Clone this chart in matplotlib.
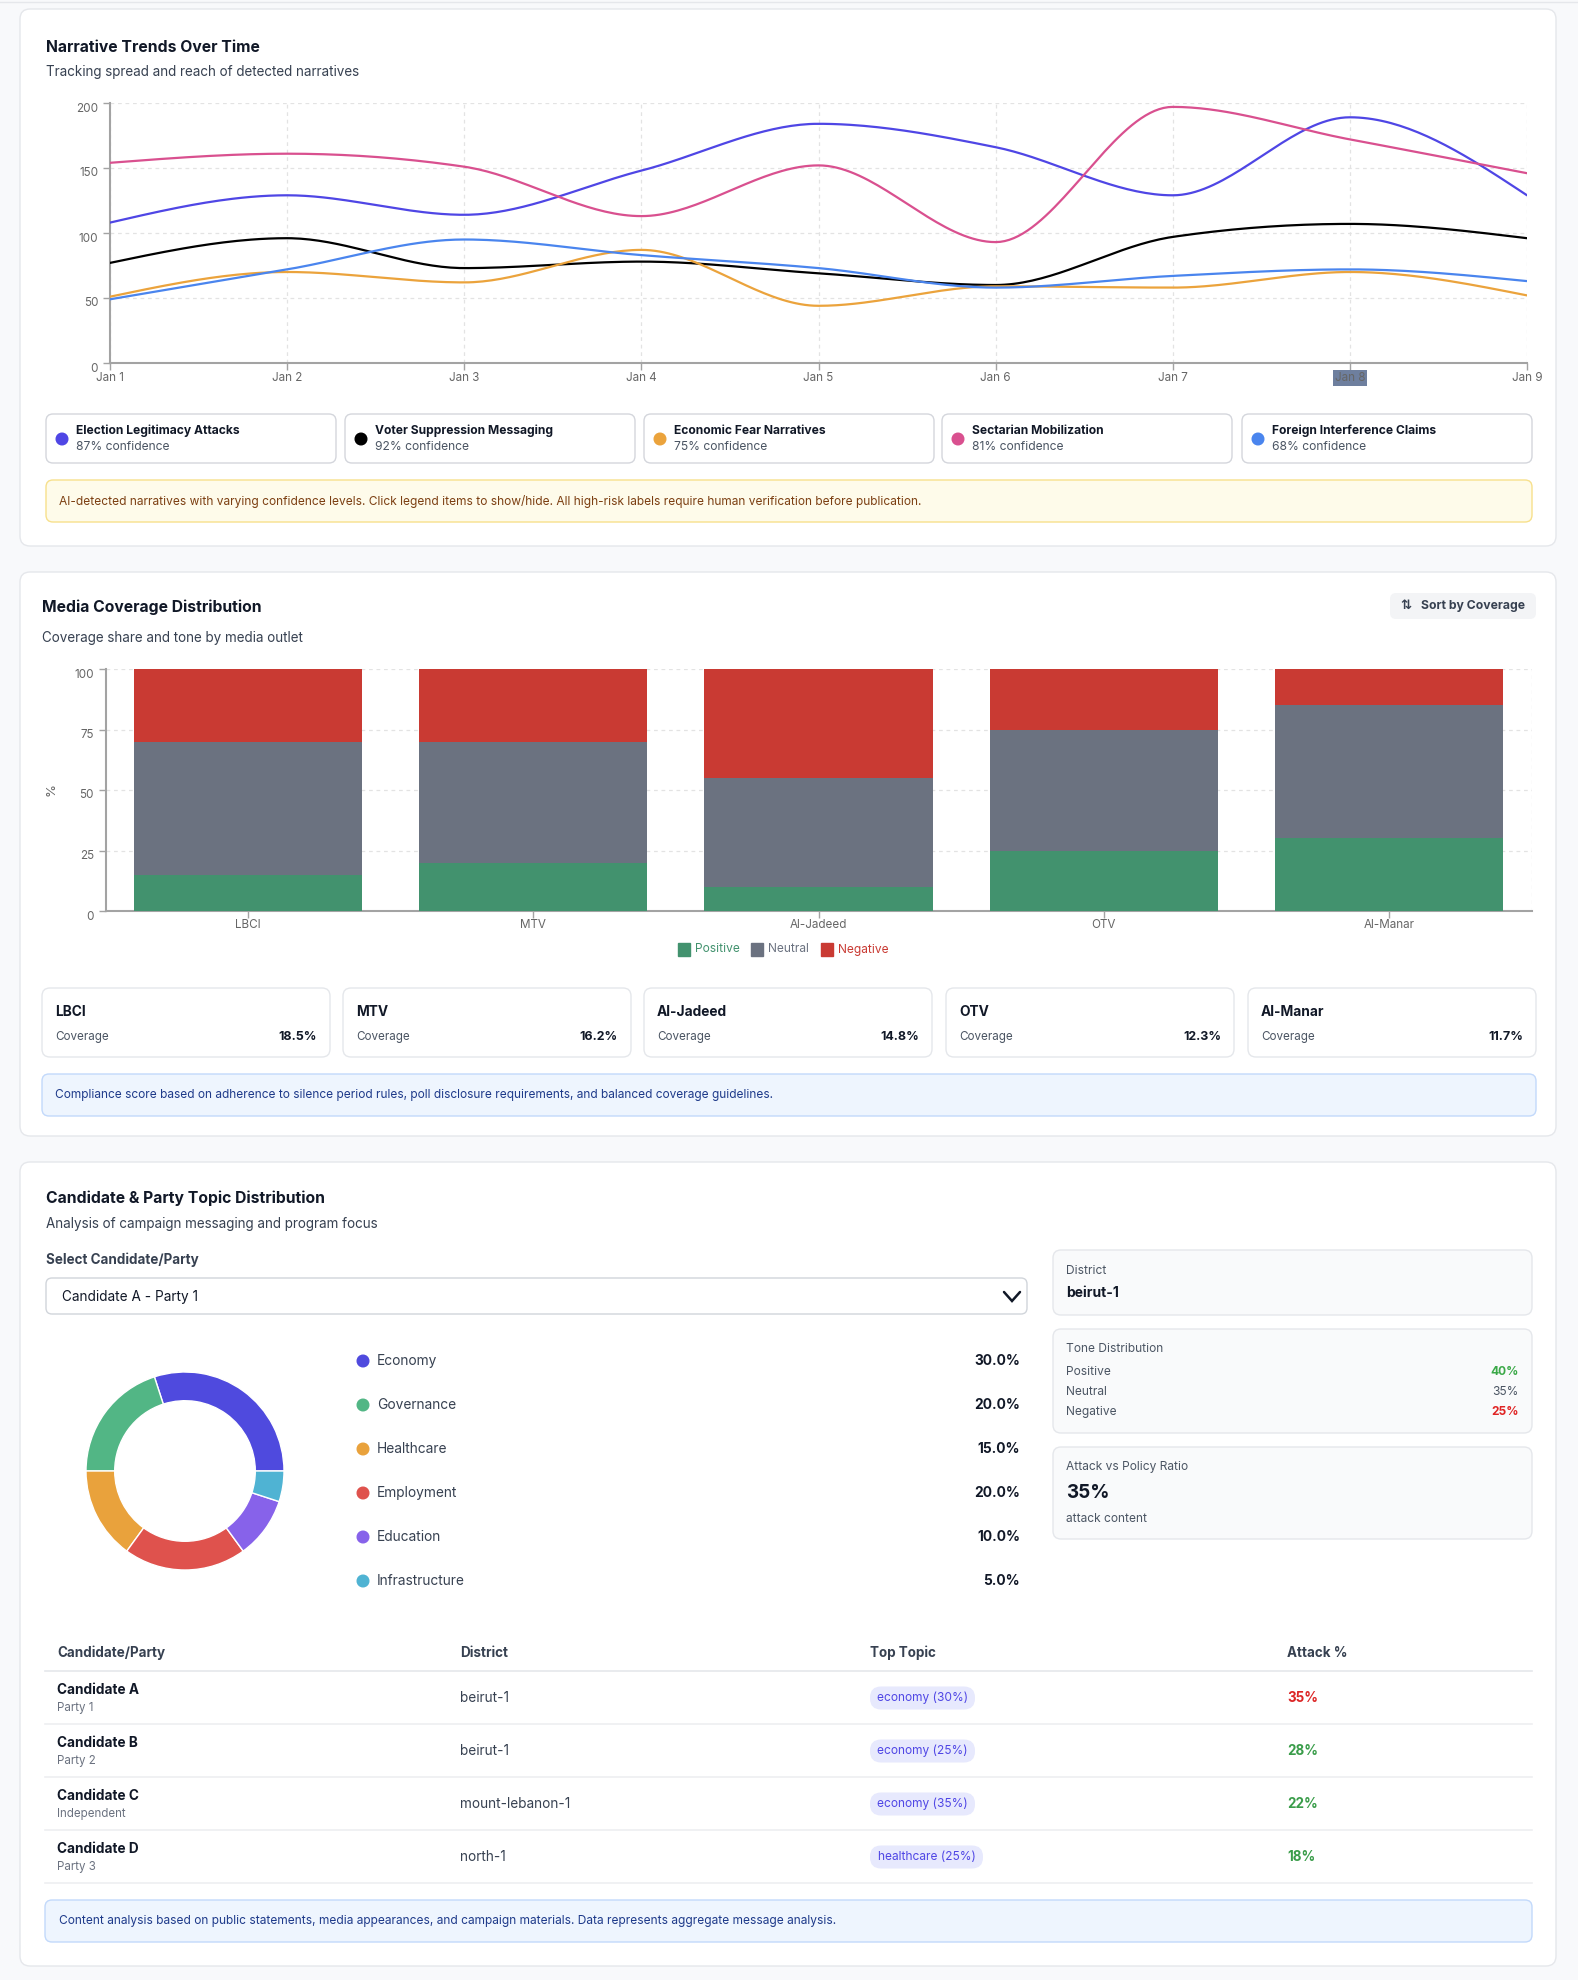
import numpy as np
import matplotlib
matplotlib.use('Agg')
import matplotlib.pyplot as plt
import matplotlib.transforms as mtrans
from matplotlib.patches import FancyBboxPatch, Circle, Rectangle

plt.rcParams['font.family'] = ['Inter', 'DejaVu Sans']

W, H = 1578, 1980

# ---------------- data ----------------
days = ['Jan 1', 'Jan 2', 'Jan 3', 'Jan 4', 'Jan 5', 'Jan 6', 'Jan 7', 'Jan 8', 'Jan 9']
narratives = ['Election Legitimacy Attacks', 'Voter Suppression Messaging',
              'Economic Fear Narratives', 'Sectarian Mobilization', 'Foreign Interference Claims']
confidence = [87, 92, 75, 81, 68]
election = [108, 129, 114, 148, 184, 166, 129, 189, 129]
voter = [77, 96, 73, 78, 69, 60, 97, 107, 96]
economic = [51, 70, 62, 87, 44, 59, 58, 70, 52]
sectarian = [154, 161, 151, 113, 152, 93, 197, 172, 146]
foreign = [49, 72, 95, 83, 73, 58, 67, 72, 63]
line_colors = ['#4f46e5', '#000000', '#eba33c', '#d9508f', '#4a85ee']

outlets = ['LBCI', 'MTV', 'Al-Jadeed', 'OTV', 'Al-Manar']
positive = [15, 20, 10, 25, 30]
neutral = [55, 50, 45, 50, 55]
negative = [30, 30, 45, 25, 15]
coverage = [18.5, 16.2, 14.8, 12.3, 11.7]

topics = ['Economy', 'Governance', 'Healthcare', 'Employment', 'Education', 'Infrastructure']
topic_share = [30.0, 20.0, 15.0, 20.0, 10.0, 5.0]
topic_colors = ['#4f4ade', '#52b685', '#e9a23c', '#df524d', '#8762ea', '#4fb3d3']

tone_labels = ['Positive', 'Neutral', 'Negative']
tone_values = [40, 35, 25]

cand_names = ['Candidate A', 'Candidate B', 'Candidate C', 'Candidate D']
cand_party = ['Party 1', 'Party 2', 'Independent', 'Party 3']
cand_district = ['beirut-1', 'beirut-1', 'mount-lebanon-1', 'north-1']
cand_topic = ['economy (30%)', 'economy (25%)', 'economy (35%)', 'healthcare (25%)']
cand_attack = [35, 28, 22, 18]


def monotone(xs, ys, n=40):
    # monotone cubic (same idea as d3 curveMonotoneX)
    xs = np.asarray(xs, float)
    ys = np.asarray(ys, float)
    h = np.diff(xs)
    s = np.diff(ys) / h
    m = np.zeros_like(ys)
    for i in range(1, len(ys) - 1):
        p = (s[i - 1] * h[i] + s[i] * h[i - 1]) / (h[i - 1] + h[i])
        m[i] = (np.sign(s[i - 1]) + np.sign(s[i])) * min(abs(s[i - 1]), abs(s[i]), 0.5 * abs(p))
    m[0] = (3 * s[0] - m[1]) / 2
    m[-1] = (3 * s[-1] - m[-2]) / 2
    out_x, out_y = [], []
    for i in range(len(xs) - 1):
        t = np.linspace(0, 1, n)
        h00 = 2 * t**3 - 3 * t**2 + 1
        h10 = t**3 - 2 * t**2 + t
        h01 = -2 * t**3 + 3 * t**2
        h11 = t**3 - t**2
        out_x.extend(xs[i] + t * h[i])
        out_y.extend(h00 * ys[i] + h10 * h[i] * m[i] + h01 * ys[i + 1] + h11 * h[i] * m[i + 1])
    return np.array(out_x), np.array(out_y)


fig = plt.figure(figsize=(W / 100, H / 100), dpi=100)
fig.patch.set_facecolor('#f8f9fb')

bg = fig.add_axes([0, 0, 1, 1])
bg.set_xlim(0, W)
bg.set_ylim(H, 0)
bg.axis('off')
bg.set_zorder(0)


def box(x0, y0, x1, y1, fc='white', ec='#e5e7eb', r=8, lw=1.0):
    bg.add_patch(FancyBboxPatch((x0, y0), x1 - x0, y1 - y0,
                                boxstyle=f'round,pad=0,rounding_size={r}',
                                fc=fc, ec=ec, lw=lw))


def txt(x, y, s, size=8.6, color='#111827', weight='normal', ha='left', va='center'):
    bg.text(x, y, s, fontsize=size, color=color, fontweight=weight, ha=ha, va=va)


def px_axes(x0, y0, x1, y1):
    return fig.add_axes([x0 / W, 1 - y1 / H, (x1 - x0) / W, (y1 - y0) / H])


def nudge_yticks(ax, dy_px=4):
    # recharts puts tick text a little below the tick
    off = mtrans.ScaledTranslation(0, -dy_px / 100, fig.dpi_scale_trans)
    for lab in ax.get_yticklabels():
        lab.set_transform(lab.get_transform() + off)


bg.plot([0, W], [1.5, 1.5], color='#e5e7eb', lw=1)

# ================= card 1: narrative trends =================
box(20, 9, 1556, 546, r=10)
txt(46, 47, 'Narrative Trends Over Time', 11.3, '#111827', 'bold')
txt(46, 72, 'Tracking spread and reach of detected narratives', 9.7, '#374151')

ax1 = px_axes(110, 103, 1527, 363)
ax1.set_facecolor('none')
for vals, c in zip([election, voter, economic, sectarian, foreign], line_colors):
    cx, cy = monotone(range(len(days)), vals)
    ax1.plot(cx, cy, color=c, lw=1.6, solid_capstyle='round', zorder=3)
ax1.set_xlim(0, len(days) - 1)
ax1.set_ylim(0, 200)
ax1.set_xticks(range(len(days)))
ax1.set_xticklabels(days)
ax1.set_yticks([0, 50, 100, 150, 200])
ax1.grid(True, color='#e3e3e3', ls=(0, (3, 3)), lw=0.9)
ax1.set_axisbelow(True)
for sp in ['top', 'right']:
    ax1.spines[sp].set_visible(False)
for sp in ['left', 'bottom']:
    ax1.spines[sp].set_color('#a3a3a3')
    ax1.spines[sp].set_linewidth(1.5)
ax1.tick_params(colors='#a3a3a3', labelcolor='#666666', labelsize=8.4, length=5, width=1)
ax1.tick_params(axis='x', pad=1.5)
nudge_yticks(ax1)
hl = ax1.get_xticklabels()[7]
hl.set_bbox(dict(facecolor='#6e7f9e', edgecolor='none', pad=1.2))

card_x = [46, 345, 644, 942, 1242]
for i, name in enumerate(narratives):
    x0 = card_x[i]
    box(x0, 414, x0 + 290, 463, fc='white', ec='#d4d6dc', r=7)
    bg.add_patch(Circle((x0 + 16, 439), 5.8, color=line_colors[i], zorder=3))
    txt(x0 + 30, 431, name, 8.7, '#111827', 'bold')
    txt(x0 + 30, 447, f'{confidence[i]}% confidence', 8.7, '#4b5563')

box(46, 480, 1532, 522, fc='#fefbea', ec='#f7e08c', r=7)
txt(59, 501, 'AI-detected narratives with varying confidence levels. Click legend items to show/hide. '
    'All high-risk labels require human verification before publication.', 8.6, '#7c3f12')

# ================= card 2: media coverage =================
box(20, 572, 1556, 1136, r=10)
txt(42, 607, 'Media Coverage Distribution', 11.3, '#111827', 'bold')
txt(42, 638, 'Coverage share and tone by media outlet', 9.7, '#374151')

box(1390, 593, 1536, 619, fc='#f3f4f6', ec='none', r=6)
txt(1406, 606, '⇅', 9.5, '#374151', 'bold', ha='center')
txt(1421, 606, 'Sort by Coverage', 8.8, '#374151', 'bold')

ax2 = px_axes(105.6, 669, 1531.5, 911)
ax2.set_facecolor('none')
xpos = np.arange(len(outlets))
ax2.bar(xpos, positive, width=0.8, color='#42926e', zorder=3)
ax2.bar(xpos, neutral, width=0.8, bottom=positive, color='#6b7280', zorder=3)
ax2.bar(xpos, negative, width=0.8, bottom=np.add(positive, neutral), color='#c93a33', zorder=3)
ax2.set_xlim(-0.5, len(outlets) - 0.5)
ax2.set_ylim(0, 100)
ax2.set_xticks(xpos)
ax2.set_xticklabels(outlets)
ax2.set_yticks([0, 25, 50, 75, 100])
ax2.yaxis.grid(True, color='#e3e3e3', ls=(0, (3, 3)), lw=0.9)
ax2.axvline(len(outlets) - 0.5, color='#e3e3e3', ls=(0, (3, 3)), lw=0.9)
ax2.set_axisbelow(True)
for sp in ['top', 'right']:
    ax2.spines[sp].set_visible(False)
for sp in ['left', 'bottom']:
    ax2.spines[sp].set_color('#a3a3a3')
    ax2.spines[sp].set_linewidth(1.5)
ax2.tick_params(colors='#a3a3a3', labelcolor='#666666', labelsize=8.4, length=5, width=1)
ax2.tick_params(axis='x', pad=1)
nudge_yticks(ax2)
ax2.set_ylabel('%', fontsize=9.5, color='#666666', labelpad=12)

leg_items = [('Positive', '#42926e', 678), ('Neutral', '#6b7280', 751), ('Negative', '#c93a33', 821)]
for lab, c, lx in leg_items:
    bg.add_patch(Rectangle((lx, 943), 12.5, 12.5, color=c))
    txt(lx + 17, 949.5, lab, 8.6, c)

oc_x = [42, 343, 644, 946, 1248]
for i, name in enumerate(outlets):
    x0 = oc_x[i]
    box(x0, 988, x0 + 288, 1057, fc='white', ec='#e5e7eb', r=8)
    txt(x0 + 13, 1012, name, 9.9, '#111827', 'bold')
    txt(x0 + 13, 1037, 'Coverage', 8.4, '#4b5563')
    txt(x0 + 275, 1037, f'{coverage[i]}%', 9.0, '#111827', 'bold', ha='right')

box(42, 1074, 1536, 1116, fc='#eef5fe', ec='#c2d9fb', r=7)
txt(55, 1095, 'Compliance score based on adherence to silence period rules, poll disclosure requirements, '
    'and balanced coverage guidelines.', 8.55, '#1e3a8a')

# ================= card 3: candidate topics =================
box(20, 1162, 1556, 1966, r=10)
txt(46, 1198, 'Candidate & Party Topic Distribution', 11.3, '#111827', 'bold')
txt(46, 1224, 'Analysis of campaign messaging and program focus', 9.7, '#374151')
txt(46, 1260, 'Select Candidate/Party', 9.7, '#374151', 'bold')

box(46, 1278, 1027, 1314, fc='white', ec='#d1d5db', r=6)
txt(62, 1297, 'Candidate A - Party 1', 9.8, '#111827')
bg.plot([1004, 1012, 1020], [1292, 1301, 1292], color='#111827', lw=1.8,
        solid_capstyle='round', solid_joinstyle='miter')

ax3 = px_axes(86, 1372, 284, 1570)
ax3.pie(topic_share, colors=topic_colors, startangle=0, counterclock=True, radius=1,
        wedgeprops=dict(width=0.29, edgecolor='white', linewidth=1))
ax3.set_xlim(-1, 1)
ax3.set_ylim(-1, 1)
ax3.set_aspect('equal')
ax3.axis('off')

row_y = [1361, 1405, 1449, 1493, 1537, 1581]
for i, name in enumerate(topics):
    bg.add_patch(Circle((363, row_y[i]), 5.8, color=topic_colors[i], zorder=3))
    txt(377, row_y[i], name, 9.9, '#374151')
    txt(1020, row_y[i], f'{topic_share[i]:.1f}%', 9.9, '#111827', 'bold', ha='right')

box(1053, 1250, 1532, 1315, fc='#f9fafb', ec='#e5e7eb', r=8)
txt(1066, 1271, 'District', 8.6, '#4b5563')
txt(1066, 1293, 'beirut-1', 10, '#111827', 'bold')

box(1053, 1329, 1532, 1433, fc='#f9fafb', ec='#e5e7eb', r=8)
txt(1066, 1349, 'Tone Distribution', 8.6, '#4b5563')
tone_colors = ['#3aa847', '#4b5563', '#e02424']
for i, lab in enumerate(tone_labels):
    yy = 1372 + 20 * i
    txt(1066, yy, lab, 8.6, '#4b5563')
    txt(1519, yy, f'{tone_values[i]}%', 8.6, tone_colors[i], 'bold' if i != 1 else 'normal', ha='right')

box(1053, 1447, 1532, 1539, fc='#f9fafb', ec='#e5e7eb', r=8)
txt(1066, 1467, 'Attack vs Policy Ratio', 8.6, '#4b5563')
txt(1066, 1493, f'{cand_attack[0]}%', 13.6, '#111827', 'bold')
txt(1066, 1519, 'attack content', 8.6, '#4b5563')

# table
col_x = [57, 460, 870, 1287]
for cx, lab in zip(col_x, ['Candidate/Party', 'District', 'Top Topic', 'Attack %']):
    txt(cx, 1653, lab, 9.7, '#374151', 'bold')
bg.plot([45, 1532], [1671, 1671], color='#e5e7eb', lw=1.2)
for i in range(len(cand_names)):
    y0 = 1671 + 53 * i
    yc = y0 + 27
    txt(57, yc - 8, cand_names[i], 9.8, '#111827', 'bold')
    txt(57, yc + 10, cand_party[i], 8.3, '#6b7280')
    txt(460, yc, cand_district[i], 9.8, '#374151')
    pw = 105 if not cand_topic[i].startswith('health') else 113
    box(870, yc - 11.5, 870 + pw, yc + 11.5, fc='#e7e9fd', ec='none', r=11)
    txt(870 + pw / 2, yc, cand_topic[i], 8.6, '#4f46e5', ha='center')
    txt(1287, yc, f'{cand_attack[i]}%', 9.7, '#dc2626' if cand_attack[i] >= 30 else '#3a9d4a', 'bold')
    bg.plot([45, 1532], [y0 + 53, y0 + 53], color='#eeeff1', lw=1.2)

box(45, 1900, 1532, 1942, fc='#eef5fe', ec='#c2d9fb', r=7)
txt(59, 1921, 'Content analysis based on public statements, media appearances, and campaign materials. '
    'Data represents aggregate message analysis.', 8.6, '#1e3a8a')

fig.savefig('out.png', dpi=100, facecolor=fig.get_facecolor())
